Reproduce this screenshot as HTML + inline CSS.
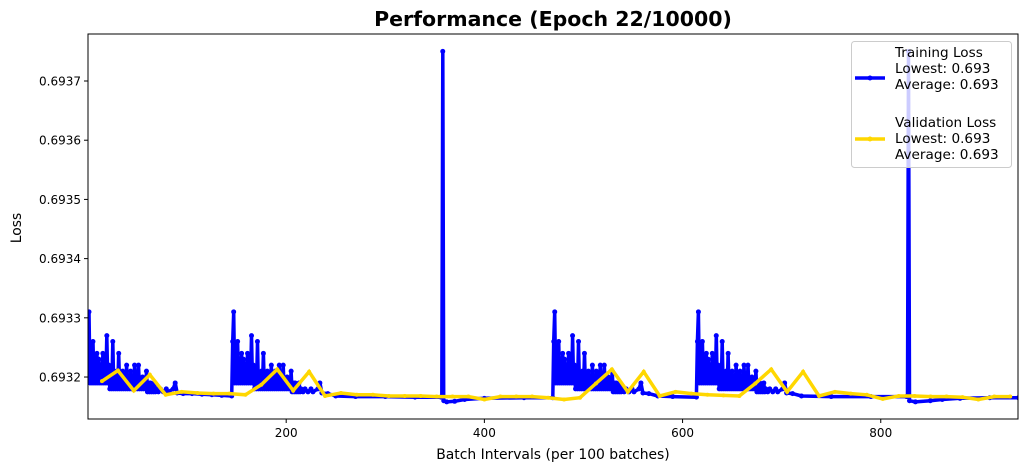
<!DOCTYPE html>
<html><head><meta charset="utf-8"><style>
html,body{margin:0;padding:0;background:#fff;}
svg{display:block;font-family:"DejaVu Sans","Liberation Sans",sans-serif;}
</style></head><body>
<svg id="chart" width="1028" height="472" xmlns="http://www.w3.org/2000/svg">
<rect width="1028" height="472" fill="#fff"/>
<text x="553" y="26" text-anchor="middle" font-size="20.5" font-weight="bold">Performance (Epoch 22/10000)</text>
<text x="553" y="459" text-anchor="middle" font-size="13.9">Batch Intervals (per 100 batches)</text>
<text transform="translate(21,228) rotate(-90)" text-anchor="middle" font-size="13.9">Loss</text>
<g id="plot"></g>
</svg>
<script>
const xTicks = [200, 400, 600, 800];
const yTicks = [0.6932, 0.6933, 0.6934, 0.6935, 0.6936, 0.6937];
const cycleStarts = [1, 147, 471, 616];
const cycleOffsets = [-1,0,1,2,3,4,5,6,7,8,9,10,11,12,13,14,15,16,17,18,19,20,21,22,23,24,25,26,27,28,29,30,31,32,33,34,35,36,37,38,39,40,41,42,43,44,45,46,47,48,49,50,51,52,53,54,55,56,57,58,59,60,61,62,63,64,65,66,67,68,70,72,75,78,80,85,87,89,95];
const cycleValues = [.69326,.69331,.69319,.69325,.69319,.69326,.69319,.69323,.69319,.69324,.69319,.69323,.69319,.69322,.69319,.69324,.69319,.69322,.69319,.69327,.69319,.69322,.69318,.69321,.69318,.69326,.69318,.69320,.69318,.69321,.69318,.69324,.69318,.69320,.69318,.69321,.69318,.69320,.69318,.69322,.69318,.69320,.69318,.69321,.69318,.69320,.69318,.69322,.69318,.69320,.69318,.69322,.69318,.69319,.69318,.69320,.69318,.69319,.69318,.69321,.693175,.69319,.693175,.69319,.693175,.69318,.693175,.69319,.693175,.69318,.693175,.69318,.693175,.69318,.693175,.69318,.69319,.693173,.693172];
const baselinePoints = [[105,.693172],[115,.693171],[125,.69317],[135,.693169],[145,.693168],
[250,.693168],[270,.693167],[300,.693167],[330,.693166],[356,.693166],[357,.693166],[358,.69375],[359,.69316],[362,.693158],[370,.693159],[380,.693162],[400,.693164],[440,.693165],[469,.693165],
[575,.693168],[590,.693167],[614,.693166],
[720,.693168],[750,.693167],[790,.693167],[826,.693167],[827,.693167],[828,.69375],[829,.69316],[835,.693158],[850,.69316],[862,.693162],[880,.693164],[910,.693165],[939,.693165]];
const valValues = [0.693193,0.693211,0.693177,0.693204,0.693170,0.693175,0.693173,0.693172,0.693172,0.693170,0.693187,0.693213,0.693177,0.693209,0.693168,0.693173,0.693170,0.693170,0.693168,0.693168,0.693168,0.693167,0.693167,0.693167,0.693162,0.693167,0.693167,0.693167,0.693165,0.693162,0.693165,0.693189,0.693213,0.693175,0.693209,0.693168,0.693175,0.693172,0.693170,0.693169,0.693168,0.693189,0.693213,0.693175,0.693209,0.693168,0.693175,0.693172,0.693170,0.693163,0.693168,0.693168,0.693167,0.693167,0.693166,0.693162,0.693167,0.693167];
const valStart = 14.1, valStep = 16.08;

const L=88,R=1018,T=34,B=419, X0=0, X1=938.5, Y0=0.6931291, Y1=0.6937794;
const sx=v=>L+(v-X0)/(X1-X0)*(R-L);
const sy=v=>B-(v-Y0)/(Y1-Y0)*(B-T);
const NS="http://www.w3.org/2000/svg";
const plot=document.getElementById('plot');
function mk(tag,attrs,parent){const e=document.createElementNS(NS,tag);for(const k in attrs)e.setAttribute(k,attrs[k]);(parent||plot).appendChild(e);return e;}

let trainPoints=[];
cycleStarts.forEach(s=>cycleOffsets.forEach((d,i)=>trainPoints.push([s+d,cycleValues[i]])));
baselinePoints.forEach(p=>trainPoints.push(p));
trainPoints.sort((a,b)=>a[0]-b[0]);

const defs=mk('defs',{});
const cp=mk('clipPath',{id:'clip'},defs);mk('rect',{x:L,y:T,width:R-L,height:B-T},cp);
const g=mk('g',{'clip-path':'url(#clip)'});

const tp=trainPoints.map(p=>sx(p[0]).toFixed(1)+','+sy(p[1]).toFixed(1)).join(' ');
const tl=mk('polyline',{points:tp,fill:'none',stroke:'#0000ff','stroke-width':3.5,'stroke-linejoin':'round'},g);


trainPoints.forEach(p=>{const c=mk('circle',{cx:sx(p[0]),cy:sy(p[1]),r:2.5,fill:'#0000ff'},g);

});

const vp=valValues.map((v,i)=>sx(valStart+i*valStep).toFixed(1)+','+sy(v).toFixed(1)).join(' ');
const vl=mk('polyline',{points:vp,fill:'none',stroke:'#ffd700','stroke-width':3.5,'stroke-linejoin':'miter'},g);


valValues.forEach((v,i)=>{const c=mk('circle',{cx:sx(valStart+i*valStep),cy:sy(v),r:2,fill:'#ffd700'},g);

});

const fr=mk('rect',{x:L,y:T,width:R-L,height:B-T,fill:'none',stroke:'#000','stroke-width':1});



xTicks.forEach(t=>{const x=sx(t);mk('line',{x1:x,x2:x,y1:B,y2:B+4,stroke:'#000'});
const tx=mk('text',{x:x,y:B+18,'text-anchor':'middle','font-size':12});tx.textContent=t;

});
yTicks.forEach(t=>{const y=sy(t);mk('line',{x1:L-4,x2:L,y1:y,y2:y,stroke:'#000'});
const tx=mk('text',{x:L-7,y:y+4.5,'text-anchor':'end','font-size':12});tx.textContent=t.toFixed(4);

});

const lg=mk('g',{});


mk('rect',{x:851.5,y:41.5,width:160,height:126,rx:3,fill:'#fff','fill-opacity':0.8,stroke:'#ccc'},lg);
mk('line',{x1:855,x2:885,y1:78,y2:78,stroke:'#0000ff','stroke-width':3.5},lg);
mk('circle',{cx:870,cy:78,r:2.5,fill:'#0000ff'},lg);
mk('line',{x1:855,x2:885,y1:139,y2:139,stroke:'#ffd700','stroke-width':3.5},lg);
mk('circle',{cx:870,cy:139,r:2.5,fill:'#ffd700'},lg);
[['Training Loss',57],['Lowest: 0.693',73],['Average: 0.693',89],['Validation Loss',127],['Lowest: 0.693',143],['Average: 0.693',159]].forEach(a=>{
const t=mk('text',{x:895,y:a[1],'font-size':13.6},lg);t.textContent=a[0];

});
</script>
</body></html>
